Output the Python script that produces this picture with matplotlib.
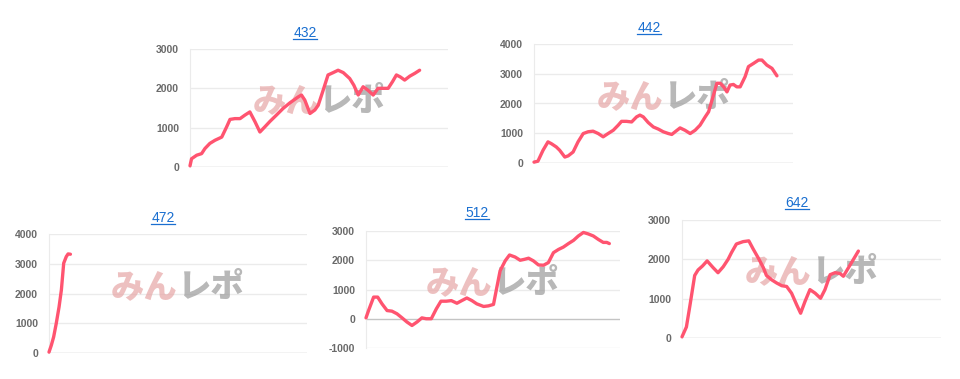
import matplotlib
matplotlib.use("Agg")
import matplotlib.pyplot as plt
from matplotlib.lines import Line2D
import numpy as np

plt.rcParams['font.family'] = ['Liberation Sans', 'DejaVu Sans']

# progress along the x axis (0-100) and balance values for each machine
x_432 = [0, 0.6, 2.6, 4.5, 5.8, 7.7, 9.7, 12.3, 14.2, 15.5, 17.4, 19.4, 21.3, 23.2, 25.2, 27.1,
         29.0, 31.0, 33.5, 36.1, 38.7, 41.9, 43.2, 44.5, 46.5, 48.4, 49.7, 51.6, 53.5, 55.5,
         57.4, 59.4, 61.9, 63.5, 65.2, 67.1, 69.0, 71.0, 72.9, 76.8, 78.5, 80.0, 81.5, 83.2,
         85.2, 87.1, 89.0]
y_432 = [30, 210, 300, 340, 470, 600, 680, 760, 1020, 1210, 1230, 1230, 1320, 1400, 1150, 890,
         1020, 1160, 1320, 1490, 1630, 1780, 1830, 1700, 1360, 1450, 1570, 1950, 2340, 2400,
         2460, 2400, 2250, 2080, 1830, 2040, 1950, 1830, 2000, 2000, 2170, 2340, 2290, 2210,
         2310, 2380, 2460]

x_442 = [0, 1.5, 3.5, 5.4, 6.7, 8.6, 9.9, 11.9, 13.2, 15.1, 17.0, 19.0, 20.9, 22.8, 24.8, 26.7,
         28.6, 30.6, 32.5, 33.8, 35.7, 37.7, 39.6, 40.9, 42.2, 44.1, 46.1, 48.0, 49.9, 51.9,
         53.2, 54.5, 56.4, 58.3, 60.3, 62.2, 64.1, 66.1, 67.4, 69.3, 70.6, 71.9, 73.2, 74.5,
         75.7, 77.0, 78.3, 79.6, 81.5, 82.8, 84.8, 86.7, 88.0, 89.9, 91.9, 93.8]
y_442 = [30, 60, 430, 710, 650, 540, 430, 200, 240, 370, 710, 990, 1050, 1070, 990, 880,
         990, 1100, 1270, 1400, 1400, 1380, 1550, 1610, 1550, 1360, 1210, 1140, 1050, 990,
         960, 1050, 1180, 1100, 990, 1100, 1270, 1550, 1720, 2280, 2680, 2680, 2560, 2390,
         2620, 2640, 2560, 2560, 2900, 3240, 3350, 3460, 3460, 3290, 3180, 2930]

x_472 = [0, 0.9, 1.8, 2.8, 3.9, 4.8, 5.7, 6.7, 7.4, 8.3]
y_472 = [30, 260, 540, 990, 1550, 2120, 3020, 3240, 3330, 3320]

x_512 = [0, 1.0, 3.0, 4.6, 6.3, 8.3, 10.2, 12.2, 14.2, 16.1, 18.1, 20.1, 22.0, 23.7, 25.7, 27.7,
         29.5, 31.6, 33.6, 35.8, 37.7, 39.7, 41.7, 43.6, 46.3, 48.2, 50.2, 51.5, 52.8, 54.8,
         56.5, 58.7, 60.7, 62.3, 64.0, 65.9, 67.9, 69.9, 71.8, 73.8, 75.8, 77.7, 79.7, 81.7,
         83.6, 85.6, 87.5, 89.5, 91.5, 93.4, 94.8, 95.8]
y_512 = [30, 280, 740, 740, 510, 280, 260, 170, 30, -110, -230, -110, 30, 0, 0, 340,
         600, 600, 620, 530, 620, 710, 620, 510, 420, 440, 490, 1070, 1640, 1980,
         2180, 2110, 2000, 2030, 2070, 1980, 1840, 1830, 1920, 2260, 2370, 2450, 2570, 2680,
         2830, 2950, 2900, 2830, 2710, 2610, 2610, 2570]

x_642 = [0, 1.7, 3.0, 4.9, 6.2, 7.9, 9.7, 12.0, 13.9, 15.9, 17.8, 19.1, 21.0, 23.6, 25.8, 27.5,
         29.4, 31.4, 32.6, 34.6, 36.5, 38.5, 40.4, 42.3, 44.3, 45.8, 47.5, 49.4, 51.4, 53.5,
         55.2, 57.2, 59.1, 61.0, 62.3, 64.3, 66.2, 68.1]
y_642 = [30, 280, 800, 1590, 1730, 1830, 1960, 1790, 1660, 1810, 2000, 2170, 2390, 2450, 2470, 2260,
         2040, 1790, 1590, 1480, 1400, 1330, 1310, 1140, 840, 630, 930, 1230, 1140, 1010,
         1230, 1610, 1660, 1640, 1570, 1790, 2000, 2210]

titles = ['432', '442', '472', '512', '642']
series_x = [x_432, x_442, x_472, x_512, x_642]
series_y = [y_432, y_442, y_472, y_512, y_642]
y_ranges = [(0, 3000), (0, 4000), (0, 4000), (-1000, 3000), (0, 3000)]

# layout in pixels: left, top, right, bottom of plot area, and title centre
W, H = 960, 379
boxes = [(190, 49, 448, 167), (534, 44, 793, 163), (49, 234, 307, 353),
         (366, 231, 620, 348), (682, 220, 941, 338)]
title_pos = [(305, 33), (649, 28), (163, 218), (477, 213), (797, 203)]

LINE = '#ff5470'
LINK = '#1a6fd0'

fig = plt.figure(figsize=(W / 100, H / 100), dpi=100)
title_texts = []

for i in range(5):
    l, t, r, b = boxes[i]
    ax = fig.add_axes([l / W, 1 - b / H, (r - l) / W, (b - t) / H])
    lo, hi = y_ranges[i]
    ax.set_xlim(0, 100)
    ax.set_ylim(lo, hi)
    ticks = np.arange(lo, hi + 1, 1000)
    ax.set_yticks(ticks)
    ax.set_yticklabels([str(int(v)) for v in ticks])
    ax.set_xticks([])
    for v in ticks:
        ax.axhline(v, color='#c4c4c4' if v == 0 else '#ebebeb', lw=1, zorder=1)
    for s in ['top', 'right', 'bottom']:
        ax.spines[s].set_visible(False)
    ax.spines['left'].set_color('#ebebeb')
    ax.tick_params(axis='y', length=0, pad=8, labelsize=7.5, labelcolor='#6a6a6a')
    for lab in ax.get_yticklabels():
        lab.set_fontweight('bold')

    # watermark
    ax.text(0.5, 0.56, 'みん', transform=ax.transAxes, ha='right', va='center',
            fontsize=24, fontweight='heavy', color='#e6a6a6', alpha=0.7,
            family=['Noto Sans CJK JP'], zorder=2)
    ax.text(0.5, 0.56, 'レポ', transform=ax.transAxes, ha='left', va='center',
            fontsize=24, fontweight='heavy', color='#a0a0a0', alpha=0.75,
            family=['Noto Sans CJK JP'], zorder=2)

    ax.plot(series_x[i], series_y[i], color=LINE, lw=2.4, zorder=3,
            solid_joinstyle='round', solid_capstyle='round', clip_on=False)

    tx, ty = title_pos[i]
    title_texts.append(fig.text(tx / W, 1 - ty / H, titles[i], ha='center', va='center',
                                fontsize=10, color=LINK))

# underline the link-style titles
fig.canvas.draw()
renderer = fig.canvas.get_renderer()
for txt in title_texts:
    bb = txt.get_window_extent(renderer)
    yline = (bb.y0 + 1) / H
    fig.add_artist(Line2D([bb.x0 / W, bb.x1 / W], [yline, yline], color=LINK, lw=0.9,
                          transform=fig.transFigure))

plt.savefig('out.png', dpi=100)
